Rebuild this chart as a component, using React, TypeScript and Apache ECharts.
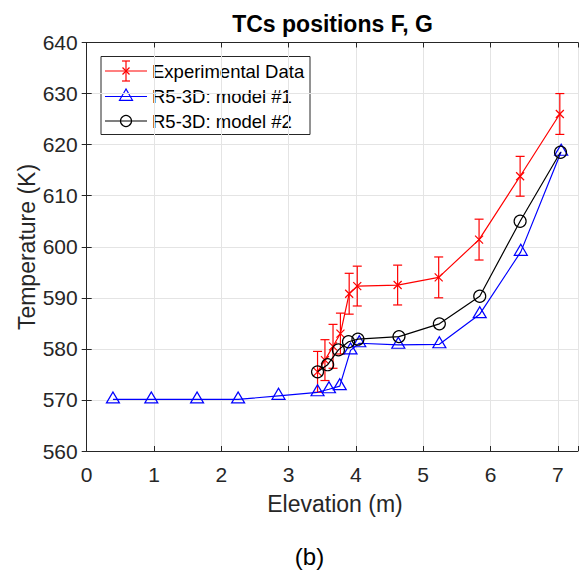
import React, { useEffect, useRef } from "react";
import * as echarts from "echarts";

const FONT = "'Liberation Sans', Arial, Helvetica, sans-serif";

// Experimental data (red, with error bars)
const expElevation = [3.43, 3.54, 3.66, 3.77, 3.9, 4.02, 4.62, 5.23, 5.83, 6.44, 7.03];
const expTemp = [575.5, 577.8, 580.5, 583.0, 590.8, 592.3, 592.5, 594.0, 601.4, 613.8, 626.0];
const expErr = [4, 4, 4.3, 4, 4, 3.9, 3.9, 4, 4, 3.9, 4];

// R5-3D: model #1 (blue triangles)
const m1Elevation = [0.39, 0.96, 1.64, 2.25, 2.85, 3.43, 3.6, 3.76, 3.92, 4.05, 4.63, 5.24, 5.84, 6.45, 7.05];
const m1Temp = [570.1, 570.1, 570.1, 570.1, 570.8, 571.5, 572.1, 572.7, 579.7, 581.1, 580.8, 580.9, 586.8, 599.0, 618.6];

// R5-3D: model #2 (black circles)
const m2Elevation = [3.43, 3.58, 3.74, 3.89, 4.03, 4.64, 5.24, 5.84, 6.44, 7.04];
const m2Temp = [575.5, 576.9, 579.8, 581.4, 581.9, 582.4, 584.9, 590.3, 605.0, 618.5];

const xTicks = [0, 1, 2, 3, 4, 5, 6, 7];
const yTicks = [560, 570, 580, 590, 600, 610, 620, 630, 640];

const legendLabels = ["Experimental Data", "R5-3D: model #1", "R5-3D: model #2"];
const titleText = "TCs positions F, G";
const xLabel = "Elevation (m)";
const yLabel = "Temperature (K)";
const panelLabel = "(b)";

const AXIS_COLOR = "#262626";
const GRID_COLOR = "#e4e4e4";

export default function App() {
  const ref = useRef<HTMLDivElement>(null);

  useEffect(() => {
    if (!ref.current) return;
    const chart = echarts.init(ref.current, null, { renderer: "svg" });

    const xMin = xTicks[0];
    const xMax = 7.3;
    const yMin = yTicks[0];
    const yMax = yTicks[yTicks.length - 1];

    const baseAxis = {
      type: "value" as const,
      axisLine: { show: true, lineStyle: { color: AXIS_COLOR, width: 1 } },
      axisTick: { show: true, inside: true, length: 5, lineStyle: { color: AXIS_COLOR } },
    };

    const errData = expElevation.map((x, i) => [x, expTemp[i] - expErr[i], expTemp[i] + expErr[i]]);

    const legX = 101, legY = 56.5, legW = 209, legH = 78;
    const rowY = [71, 96.5, 121];
    const lineX1 = 105, lineX2 = 147, mkX = 126, txtX = 152;

    const option = {
      animation: false,
      backgroundColor: "#ffffff",
      textStyle: { fontFamily: FONT },
      grid: { left: 86.7, top: 42.5, right: 7, bottom: 122, containLabel: false },
      xAxis: [
        {
          ...baseAxis,
          position: "bottom",
          min: xMin,
          max: xMax,
          interval: 1,
          axisLabel: {
            show: true,
            color: AXIS_COLOR,
            fontSize: 21,
            fontFamily: FONT,
            margin: 13,
            formatter: (v: number) => (Number.isInteger(v) ? String(v) : ""),
          },
          splitLine: { show: true, lineStyle: { color: GRID_COLOR, width: 1 } },
        },
        {
          ...baseAxis,
          position: "top",
          min: xMin,
          max: xMax,
          interval: 1,
          axisLabel: { show: false },
          splitLine: { show: false },
        },
      ],
      yAxis: [
        {
          ...baseAxis,
          position: "left",
          min: yMin,
          max: yMax,
          interval: 10,
          axisLabel: { show: true, color: AXIS_COLOR, fontSize: 21, fontFamily: FONT, margin: 9 },
          splitLine: { show: true, lineStyle: { color: GRID_COLOR, width: 1 } },
        },
        {
          ...baseAxis,
          position: "right",
          min: yMin,
          max: yMax,
          interval: 10,
          axisLabel: { show: false },
          splitLine: { show: false },
        },
      ],
      series: [
        {
          type: "custom",
          name: "errorbars",
          xAxisIndex: 0,
          yAxisIndex: 0,
          data: errData,
          encode: { x: 0, y: [1, 2] },
          z: 3,
          renderItem: (params: any, api: any) => {
            const x = api.value(0);
            const lo = api.coord([x, api.value(1)]);
            const hi = api.coord([x, api.value(2)]);
            const hw = 4.5;
            const style = { stroke: "#ff0000", lineWidth: 1.2 };
            return {
              type: "group",
              children: [
                { type: "line", shape: { x1: lo[0], y1: lo[1], x2: hi[0], y2: hi[1] }, style },
                { type: "line", shape: { x1: hi[0] - hw, y1: hi[1], x2: hi[0] + hw, y2: hi[1] }, style },
                { type: "line", shape: { x1: lo[0] - hw, y1: lo[1], x2: lo[0] + hw, y2: lo[1] }, style },
              ],
            };
          },
        },
        {
          type: "line",
          name: legendLabels[0],
          data: expElevation.map((x, i) => [x, expTemp[i]]),
          symbol: "path://M0,0L10,10M10,0L0,10",
          symbolSize: 8,
          showAllSymbol: true,
          lineStyle: { color: "#ff0000", width: 1.2 },
          itemStyle: { color: "none", borderColor: "#ff0000", borderWidth: 1.2 },
          z: 3,
        },
        {
          type: "line",
          name: legendLabels[1],
          data: m1Elevation.map((x, i) => [x, m1Temp[i]]),
          symbol: "triangle",
          symbolSize: [13, 11],
          symbolOffset: [0, -2],
          showAllSymbol: true,
          lineStyle: { color: "#0000ff", width: 1.2 },
          itemStyle: { color: "none", borderColor: "#0000ff", borderWidth: 1.2 },
          z: 4,
        },
        {
          type: "line",
          name: legendLabels[2],
          data: m2Elevation.map((x, i) => [x, m2Temp[i]]),
          symbol: "circle",
          symbolSize: 12,
          showAllSymbol: true,
          lineStyle: { color: "#000000", width: 1.2 },
          itemStyle: { color: "none", borderColor: "#000000", borderWidth: 1.2 },
          z: 5,
        },
      ],
      graphic: [
        {
          type: "text",
          x: 332.5,
          y: 24,
          style: {
            text: titleText,
            fontFamily: FONT,
            fontSize: 23,
            fontWeight: "bold",
            fill: "#000000",
            textAlign: "center",
            textVerticalAlign: "middle",
          },
        },
        {
          type: "text",
          x: 335,
          y: 504,
          style: {
            text: xLabel,
            fontFamily: FONT,
            fontSize: 23,
            fill: AXIS_COLOR,
            textAlign: "center",
            textVerticalAlign: "middle",
          },
        },
        {
          type: "text",
          x: 27,
          y: 247,
          rotation: Math.PI / 2,
          style: {
            text: yLabel,
            fontFamily: FONT,
            fontSize: 23,
            fill: AXIS_COLOR,
            textAlign: "center",
            textVerticalAlign: "middle",
          },
        },
        {
          type: "text",
          x: 309.5,
          y: 556,
          style: {
            text: panelLabel,
            fontFamily: FONT,
            fontSize: 24,
            fill: "#000000",
            textAlign: "center",
            textVerticalAlign: "middle",
          },
        },
        {
          type: "group",
          z: 100,
          children: [
            {
              type: "rect",
              shape: { x: legX, y: legY, width: legW, height: legH },
              style: { fill: "#ffffff", stroke: AXIS_COLOR, lineWidth: 1 },
            },
            // row 1: experimental
            { type: "line", shape: { x1: lineX1, y1: rowY[0], x2: lineX2, y2: rowY[0] }, style: { stroke: "#ff0000", lineWidth: 1.2 } },
            { type: "line", shape: { x1: mkX, y1: rowY[0] - 10, x2: mkX, y2: rowY[0] + 10 }, style: { stroke: "#ff0000", lineWidth: 1.2 } },
            { type: "line", shape: { x1: mkX - 4, y1: rowY[0] - 10, x2: mkX + 4, y2: rowY[0] - 10 }, style: { stroke: "#ff0000", lineWidth: 1.2 } },
            { type: "line", shape: { x1: mkX - 4, y1: rowY[0] + 10, x2: mkX + 4, y2: rowY[0] + 10 }, style: { stroke: "#ff0000", lineWidth: 1.2 } },
            { type: "line", shape: { x1: mkX - 3.5, y1: rowY[0] - 3.5, x2: mkX + 3.5, y2: rowY[0] + 3.5 }, style: { stroke: "#ff0000", lineWidth: 1.2 } },
            { type: "line", shape: { x1: mkX - 3.5, y1: rowY[0] + 3.5, x2: mkX + 3.5, y2: rowY[0] - 3.5 }, style: { stroke: "#ff0000", lineWidth: 1.2 } },
            {
              type: "text",
              x: txtX,
              y: rowY[0],
              style: { text: legendLabels[0], fontFamily: FONT, fontSize: 18.5, fill: "#000000", textVerticalAlign: "middle" },
            },
            // row 2: model 1
            { type: "line", shape: { x1: lineX1, y1: rowY[1], x2: lineX2, y2: rowY[1] }, style: { stroke: "#0000ff", lineWidth: 1.2 } },
            {
              type: "polygon",
              shape: { points: [[mkX, rowY[1] - 7.5], [mkX - 6.5, rowY[1] + 3.8], [mkX + 6.5, rowY[1] + 3.8]] },
              style: { fill: "none", stroke: "#0000ff", lineWidth: 1.2 },
            },
            {
              type: "text",
              x: txtX,
              y: rowY[1],
              style: { text: legendLabels[1], fontFamily: FONT, fontSize: 18.5, fill: "#000000", textVerticalAlign: "middle" },
            },
            // row 3: model 2
            { type: "line", shape: { x1: lineX1, y1: rowY[2], x2: lineX2, y2: rowY[2] }, style: { stroke: "#000000", lineWidth: 1.2 } },
            {
              type: "circle",
              shape: { cx: mkX, cy: rowY[2], r: 5.5 },
              style: { fill: "none", stroke: "#000000", lineWidth: 1.2 },
            },
            {
              type: "text",
              x: txtX,
              y: rowY[2],
              style: { text: legendLabels[2], fontFamily: FONT, fontSize: 18.5, fill: "#000000", textVerticalAlign: "middle" },
            },
          ],
        },
      ],
    };

    chart.setOption(option as any);
    return () => chart.dispose();
  }, []);

  return (
    <div
      ref={ref}
      style={{ position: "absolute", left: 0, top: 0, width: 585, height: 573, background: "#fff" }}
    />
  );
}
